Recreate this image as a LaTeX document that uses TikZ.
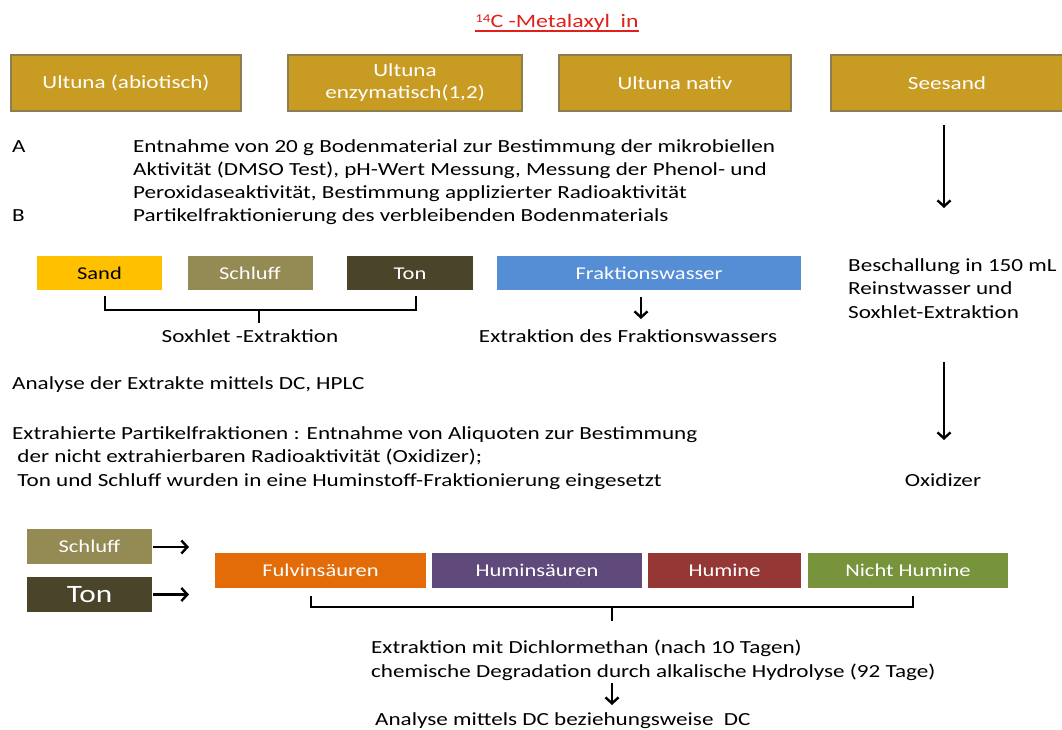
\documentclass[tikz,border=0pt]{standalone}
\usepackage{fontspec}
\setmainfont{Carlito}[FakeStretch=1.25]
\usetikzlibrary{arrows.meta}
\definecolor{gold}{HTML}{C89B22}
\definecolor{goldb}{HTML}{8C7E50}
\definecolor{sandc}{HTML}{FFC000}
\definecolor{schluffc}{HTML}{948A54}
\definecolor{tonc}{HTML}{4A452A}
\definecolor{wasserc}{HTML}{558ED5}
\definecolor{fulvc}{HTML}{E36C09}
\definecolor{huminsc}{HTML}{604A7B}
\definecolor{huminec}{HTML}{953735}
\definecolor{nichtc}{HTML}{77933C}
\definecolor{titlec}{HTML}{E0201B}
\tikzset{
  topbox/.style={draw=goldb, line width=2.5pt, fill=gold, text=white, inner sep=0pt, align=center, font=\fontsize{18.5}{22}\selectfont},
  fracbox/.style={inner sep=0pt, text=white, text height=16pt, text depth=4pt, font=\fontsize{18}{21}\selectfont},
  txt/.style={inner sep=0pt, anchor=west, text height=17pt, text depth=4pt, font=\fontsize{18.5}{22}\selectfont},
  ctxt/.style={inner sep=0pt, text height=17pt, text depth=4pt, font=\fontsize{18.5}{22}\selectfont},
  arr/.style={-{Straight Barb[length=6pt,width=13pt]}, line width=2.4pt},
  brace/.style={line width=2.2pt}
}
\begin{document}
\begin{tikzpicture}[x=1pt,y=-1pt]
\useasboundingbox (0,0) rectangle (1062,729);
% title
\node[inner sep=0pt, anchor=base, text=titlec, font=\fontsize{19}{23}\selectfont] (title) at (557,27) {\raisebox{0.45ex}{\fontsize{12}{14}\selectfont 14}C -Metalaxyl\ \ in};
\draw[titlec, line width=1.5pt] ([yshift=-4pt]title.base west) -- ([yshift=-4pt]title.base east);
% top boxes
\node[topbox, minimum width=230pt, minimum height=56pt] (u1) at (126,83) {Ultuna (abiotisch)};
\node[topbox, minimum width=234pt, minimum height=56pt] (u2) at (405,83) {Ultuna\\enzymatisch(1,2)};
\node[topbox, minimum width=232pt, minimum height=56pt] (u3) at (675,83) {Ultuna nativ};
\node[topbox, minimum width=232pt, minimum height=56pt] (u4) at (947,83) {Seesand};
% A/B text
\node[txt] (la) at (12,146) {A};
\node[txt] (lb) at (12,215) {B};
\node[txt] (ta1) at (133,146) {Entnahme von 20 g Bodenmaterial zur Bestimmung der mikrobiellen};
\node[txt] (ta2) at (133,169) {Aktivität (DMSO Test), pH-Wert Messung, Messung der Phenol- und};
\node[txt] (ta3) at (133,192) {Peroxidaseaktivität, Bestimmung applizierter Radioaktivität};
\node[txt] (tb) at (133,215) {Partikelfraktionierung des verbleibenden Bodenmaterials};
% right column
\coordinate (r1s) at (944,125);
\coordinate (r1e) at (944,208);
\draw[arr] (r1s) -- (r1e);
\node[txt] (besch1) at (848,265) {Beschallung in 150 mL};
\node[txt] (besch2) at (848,288) {Reinstwasser und};
\node[txt] (besch3) at (848,312) {Soxhlet-Extraktion};
\coordinate (r2s) at (944,362);
\coordinate (r2e) at (944,440);
\draw[arr] (r2s) -- (r2e);
\node[ctxt] (oxi) at (943,480) {Oxidizer};
% fractions row
\node[fracbox, fill=sandc, text=black, minimum width=125pt, minimum height=34pt] (sand) at (99.5,273) {Sand};
\node[fracbox, fill=schluffc, minimum width=125pt, minimum height=34pt] (schluff) at (250,273) {Schluff};
\node[fracbox, fill=tonc, minimum width=126pt, minimum height=34pt] (ton) at (410,273) {Ton};
\node[fracbox, fill=wasserc, minimum width=304pt, minimum height=34pt] (wasser) at (649,273) {Fraktionswasser};
% brace 1
\coordinate (b1l) at (105,296);
\coordinate (b1r) at (416,296);
\coordinate (b1m) at (259,323);
\draw[brace] (b1l) -- (105,310) -- (416,310) -- (b1r);
\draw[brace] (259,310) -- (b1m);
\node[ctxt] (soxh) at (250,336) {Soxhlet -Extraktion};
\coordinate (fwa) at (641,297);
\coordinate (fwb) at (641,319);
\draw[arr] (fwa) -- (fwb);
\node[ctxt] (extfw) at (628,336) {Extraktion des Fraktionswassers};
% analysis text
\node[txt] (anal) at (12,383) {Analyse der Extrakte mittels DC, HPLC};
\node[txt] (ex1) at (12,433) {Extrahierte Partikelfraktionen : Entnahme von Aliquoten zur Bestimmung};
\node[txt] (ex2) at (12,456) {\ der nicht extrahierbaren Radioaktivität (Oxidizer);};
\node[txt] (ex3) at (12,480) {\ Ton und Schluff wurden in eine Huminstoff-Fraktionierung eingesetzt};
% bottom left boxes
\node[fracbox, fill=schluffc, minimum width=125pt, minimum height=35pt] (schluff2) at (89.5,546) {Schluff};
\node[fracbox, fill=tonc, minimum width=125pt, minimum height=35pt, text height=20pt, text depth=4pt, font=\fontsize{25}{29}\selectfont] (ton2) at (89.5,594.5) {Ton};
\coordinate (a1e) at (189,547);
\coordinate (a2e) at (189,594.5);
\draw[arr] ([xshift=1pt]schluff2.east |- a1e) -- (a1e);
\draw[arr] ([xshift=1pt]ton2.east) -- (a2e);
% humic fractions
\node[fracbox, fill=fulvc, minimum width=211pt, minimum height=35pt] (fulv) at (320.5,570.5) {Fulvinsäuren};
\node[fracbox, fill=huminsc, minimum width=210pt, minimum height=35pt] (humins) at (537,570.5) {Huminsäuren};
\node[fracbox, fill=huminec, minimum width=153pt, minimum height=35pt] (humine) at (724.5,570.5) {Humine};
\node[fracbox, fill=nichtc, minimum width=200pt, minimum height=35pt] (nicht) at (908,570.5) {Nicht Humine};
% brace 2
\coordinate (b2l) at (311,596);
\coordinate (b2r) at (913,596);
\coordinate (b2m) at (612,621);
\draw[brace] (b2l) -- (311,607) -- (913,607) -- (b2r);
\draw[brace] (612,607) -- (b2m);
\node[txt] (dcm) at (371,647) {Extraktion mit Dichlormethan (nach 10 Tagen)};
\node[txt] (chem) at (371,671) {chemische Degradation durch alkalische Hydrolyse (92 Tage)};
\coordinate (a3s) at (612,683);
\coordinate (a3e) at (612,705);
\draw[arr] (a3s) -- (a3e);
\node[txt] (final) at (375,719) {Analyse mittels DC beziehungsweise\ \ DC};
\end{tikzpicture}
\end{document}
